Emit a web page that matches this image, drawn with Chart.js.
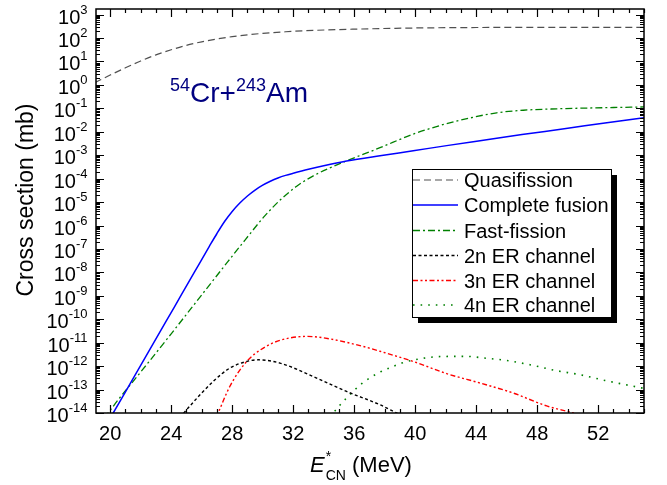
<!DOCTYPE html>
<html><head><meta charset="utf-8">
<script src="https://cdn.jsdelivr.net/npm/chart.js@4.4.0/dist/chart.umd.min.js"></script>
<style>html,body{margin:0;padding:0;background:#fff;overflow:hidden}canvas{display:block}</style>
</head><body>
<canvas id="c" width="667" height="485"></canvas>
<script>
// ---- data (excitation energy in MeV, cross sections in mb) ----
const xTickLabels = [20, 24, 28, 32, 36, 40, 44, 48, 52];
const yTickExponents = [3, 2, 1, 0, -1, -2, -3, -4, -5, -6, -7, -8, -9, -10, -11, -12, -13, -14];
const seriesLabels = ["Quasifission", "Complete fusion", "Fast-fission", "2n ER channel", "3n ER channel", "4n ER channel"];

const qfE = [19.0, 20.0, 21.0, 22.0, 23.0, 24.0, 25.0, 26.0, 27.0, 28.0, 29.0, 30.0, 31.5, 33.5, 36.0, 40.0, 44.0, 50.0, 55.0];
const qfSigma = [1.26, 2.63, 5.37, 10.5, 19.1, 31.6, 49.0, 69.2, 91.2, 115, 138, 158, 186, 214, 240, 269, 282, 288, 288];

const cfE = [20.0, 20.2, 21.2, 22.5, 23.66, 24.69, 25.56, 26.0, 26.5, 27.0, 27.5, 28.0, 28.5, 29.0, 29.5, 30.0, 30.5, 31.0, 31.5, 32.0, 33.0, 34.0, 35.5, 37.69, 39.87, 42.06, 44.25, 47.0, 50.0, 52.44, 55.0];
const cfSigma = [6.0e-15, 1.0e-14, 1.35e-13, 3.98e-12, 8.1e-11, 1.17e-9, 1.12e-8, 3.55e-8, 1.29e-7, 4.57e-7, 1.48e-6, 3.98e-6, 9.1e-6, 1.82e-5, 3.24e-5, 5.25e-5, 7.76e-5, 1.07e-4, 1.38e-4, 1.70e-4, 2.51e-4, 3.55e-4, 5.62e-4, 9.5e-4, 1.55e-3, 2.57e-3, 4.17e-3, 7.6e-3, 1.41e-2, 2.4e-2, 3.98e-2];

const ffE = [19.6, 19.87, 20.53, 22.0, 24.0, 26.2, 27.7, 28.84, 30.15, 31.2, 32.23, 33.32, 34.4, 35.5, 37.69, 39.87, 41.8, 43.8, 45.34, 47.09, 49.28, 52.44, 55.0];
const ffSigma = [6.0e-15, 1.0e-14, 3.7e-14, 5.6e-13, 2.4e-11, 1.6e-9, 2.8e-8, 2.4e-7, 2.63e-6, 1.32e-5, 4.79e-5, 1.32e-4, 2.88e-4, 5.75e-4, 2.09e-3, 7.94e-3, 2.0e-2, 4.17e-2, 6.46e-2, 8.32e-2, 9.55e-2, 0.107, 0.115];

const er2nE = [24.6, 24.83, 25.01, 26.76, 27.85, 28.95, 29.71, 31.13, 33.31, 35.5, 37.69, 38.78, 39.1];
const er2nSigma = [6.3e-15, 1.0e-14, 1.38e-14, 2.24e-13, 8.3e-13, 1.58e-12, 1.86e-12, 1.35e-12, 3.6e-13, 8.3e-14, 2.24e-14, 1.0e-14, 7.9e-15];

const er3nE = [26.95, 27.08, 27.85, 28.95, 30.04, 31.13, 32.88, 34.41, 36.59, 37.69, 39.87, 42.06, 44.25, 46.43, 48.62, 50.37, 50.6];
const er3nSigma = [6.3e-15, 1.0e-14, 1.38e-13, 1.58e-12, 5.9e-12, 1.26e-11, 1.86e-11, 1.45e-11, 6.9e-12, 4.3e-12, 1.58e-12, 4.8e-13, 1.9e-13, 7.1e-14, 2.0e-14, 1.0e-14, 8.9e-15];

const er4nE = [34.45, 34.63, 34.96, 35.5, 36.49, 37.58, 38.56, 39.11, 40.2, 41.18, 42.28, 43.37, 44.46, 45.99, 47.52, 49.16, 50.8, 52.44, 55.0];
const er4nSigma = [6.3e-15, 1.0e-14, 1.82e-14, 4.4e-14, 1.78e-13, 5.1e-13, 9.8e-13, 1.35e-12, 2.0e-12, 2.45e-12, 2.6e-12, 2.6e-12, 2.24e-12, 1.74e-12, 1.15e-12, 6.6e-13, 4.3e-13, 2.45e-13, 1.12e-13];

// ---- build ----
const FONT = '"Liberation Sans", Arial, Helvetica, sans-serif';
const pts = (E, S) => E.map((e, i) => ({ x: e, y: S[i] }));

const styles = [
  { c: '#505050', w: 1.2, d: [7, 4] },
  { c: '#0000ff', w: 1.5, d: [] },
  { c: '#008000', w: 1.3, d: [7, 3, 2, 3] },
  { c: '#000000', w: 1.4, d: [3, 2.5] },
  { c: '#ff0000', w: 1.4, d: [5, 2.5, 2, 2.5, 2, 2.5] },
  { c: '#008000', w: 1.6, d: [1.6, 6] }
];
const seriesData = [pts(qfE, qfSigma), pts(cfE, cfSigma), pts(ffE, ffSigma), pts(er2nE, er2nSigma), pts(er3nE, er3nSigma), pts(er4nE, er4nSigma)];

const datasets = seriesData.map((d, i) => ({
  label: seriesLabels[i], data: d,
  borderColor: styles[i].c, borderWidth: styles[i].w, borderDash: styles[i].d,
  pointRadius: 0, fill: false, cubicInterpolationMode: 'monotone'
}));

function supText(ctx, parts, x, baseline) {
  let cx = x;
  for (const p of parts) {
    ctx.font = (p.italic ? 'italic ' : '') + p.size + 'px ' + FONT;
    ctx.fillText(p.t, cx, baseline + (p.dy || 0));
    cx += ctx.measureText(p.t).width;
  }
  return cx;
}

const decor = {
  id: 'decor',
  afterDatasetsDraw(chart) {
    const { ctx, chartArea: a, scales: { x, y } } = chart;
    ctx.save();
    ctx.strokeStyle = '#000';
    ctx.lineWidth = 1.2;
    ctx.setLineDash([]);
    ctx.beginPath();
    for (let v = Math.ceil(x.min); v <= x.max; v++) {
      const px = Math.round(x.getPixelForValue(v)) + 0.5;
      const len = xTickLabels.includes(v) ? 8 : 4;
      ctx.moveTo(px, a.bottom); ctx.lineTo(px, a.bottom - len);
      ctx.moveTo(px, a.top); ctx.lineTo(px, a.top + len);
    }
    for (const e of yTickExponents) {
      for (let m = 1; m < 10; m++) {
        const v = m * Math.pow(10, e);
        if (v < y.min * 0.999 || v > y.max) continue;
        const py = Math.round(y.getPixelForValue(v)) + 0.5;
        const len = m === 1 ? 8 : 4;
        ctx.moveTo(a.left, py); ctx.lineTo(a.left + len, py);
        ctx.moveTo(a.right, py); ctx.lineTo(a.right - len, py);
      }
    }
    ctx.stroke();
    ctx.lineWidth = 1.5;
    ctx.strokeRect(a.left, a.top, a.right - a.left, a.bottom - a.top);

    ctx.fillStyle = '#000';
    ctx.textBaseline = 'alphabetic';
    ctx.font = '20px ' + FONT;
    ctx.textAlign = 'center';
    for (const v of xTickLabels) {
      ctx.fillText(String(v), x.getPixelForValue(v), a.bottom + 27);
    }
    ctx.textAlign = 'left';
    for (const e of yTickExponents) {
      const py = y.getPixelForValue(Math.pow(10, e));
      const sup = String(e);
      ctx.font = '13px ' + FONT;
      const ws = ctx.measureText(sup).width;
      ctx.font = '20px ' + FONT;
      const wb = ctx.measureText('10').width;
      const right = a.left - 8.5;
      ctx.fillText('10', right - ws - wb, py + 9);
      ctx.font = '13px ' + FONT;
      ctx.fillText(sup, right - ws, py - 1);
    }
    // x axis title
    let cx = 310, bl = 472;
    ctx.font = 'italic 22px ' + FONT;
    ctx.fillText('E', cx, bl);
    cx += ctx.measureText('E').width + 1;
    ctx.font = '14px ' + FONT;
    ctx.fillText('*', cx, bl - 11);
    ctx.fillText('CN', cx, bl + 8);
    cx += ctx.measureText('CN').width;
    ctx.font = '22px ' + FONT;
    ctx.fillText(' (MeV)', cx, bl);
    // y axis title
    ctx.save();
    ctx.translate(33, 200);
    ctx.rotate(-Math.PI / 2);
    ctx.textAlign = 'center';
    ctx.font = '23px ' + FONT;
    ctx.fillText('Cross section (mb)', 0, 0);
    ctx.restore();

    // reaction annotation
    ctx.fillStyle = '#000080';
    ctx.textAlign = 'left';
    supText(ctx, [
      { t: '54', size: 18, dy: -11 },
      { t: 'Cr+', size: 28 },
      { t: '243', size: 18, dy: -11 },
      { t: 'Am', size: 28 }
    ], 170, 102);

    // legend with shadow
    const L = { l: 412, t: 169, r: 611, b: 317 };
    ctx.fillStyle = '#000';
    ctx.fillRect(L.l + 6, L.t + 6, L.r - L.l, L.b - L.t);
    ctx.fillStyle = '#fff';
    ctx.fillRect(L.l, L.t, L.r - L.l, L.b - L.t);
    ctx.lineWidth = 1;
    ctx.strokeStyle = '#000';
    ctx.strokeRect(L.l + 0.5, L.t + 0.5, L.r - L.l, L.b - L.t);
    const rows = [180, 205, 230.5, 255.5, 280.5, 305];
    chart.data.datasets.forEach((ds, i) => {
      const ry = rows[i];
      ctx.save();
      ctx.strokeStyle = ds.borderColor;
      ctx.lineWidth = ds.borderWidth;
      ctx.setLineDash(ds.borderDash);
      ctx.beginPath();
      ctx.moveTo(L.l + 1, ry); ctx.lineTo(L.l + 46, ry);
      ctx.stroke();
      ctx.restore();
      ctx.fillStyle = '#000';
      ctx.font = '20px ' + FONT;
      ctx.fillText(ds.label, L.l + 52, ry + 7);
    });
    ctx.restore();
  }
};

new Chart(document.getElementById('c'), {
  type: 'line',
  data: { datasets },
  options: {
    responsive: false,
    devicePixelRatio: 1,
    animation: false,
    layout: { padding: { left: 96, right: 23, top: 9, bottom: 72 } },
    plugins: { legend: { display: false }, tooltip: { enabled: false } },
    scales: {
      x: { type: 'linear', min: 19.07, max: 55.0, display: false },
      y: { type: 'logarithmic', min: 1e-14, max: 1738, display: false }
    }
  },
  plugins: [decor]
});
</script>
</body></html>
